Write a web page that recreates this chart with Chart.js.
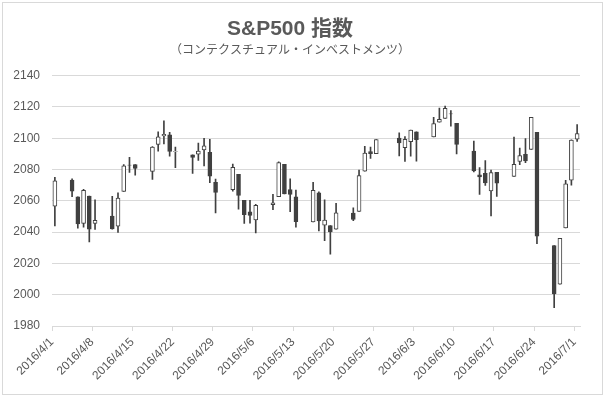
<!DOCTYPE html>
<html>
<head>
<meta charset="utf-8">
<script src="https://cdn.jsdelivr.net/npm/chart.js@4.4.0/dist/chart.umd.min.js"></script>
<style>
html, body { margin: 0; padding: 0; background: #fff; }
</style>
</head>
<body>
<canvas id="canvas" width="606" height="398"></canvas>
<script>
var dates = [
    "2016/4/1", "2016/4/4", "2016/4/5", "2016/4/6", "2016/4/7", "2016/4/8",
    "2016/4/11", "2016/4/12", "2016/4/13", "2016/4/14", "2016/4/15",
    "2016/4/18", "2016/4/19", "2016/4/20", "2016/4/21", "2016/4/22",
    "2016/4/25", "2016/4/26", "2016/4/27", "2016/4/28", "2016/4/29",
    "2016/5/2", "2016/5/3", "2016/5/4", "2016/5/5", "2016/5/6",
    "2016/5/9", "2016/5/10", "2016/5/11", "2016/5/12", "2016/5/13",
    "2016/5/16", "2016/5/17", "2016/5/18", "2016/5/19", "2016/5/20",
    "2016/5/23", "2016/5/24", "2016/5/25", "2016/5/26", "2016/5/27",
    "2016/5/31", "2016/6/1", "2016/6/2", "2016/6/3",
    "2016/6/6", "2016/6/7", "2016/6/8", "2016/6/9", "2016/6/10",
    "2016/6/13", "2016/6/14", "2016/6/15", "2016/6/16", "2016/6/17",
    "2016/6/20", "2016/6/21", "2016/6/22", "2016/6/23", "2016/6/24",
    "2016/6/27", "2016/6/28", "2016/6/29", "2016/6/30", "2016/7/1"
];
var openVals = [
    2056.62, 2073.19, 2062.50, 2045.56, 2063.01, 2045.54,
    2050.23, 2043.72, 2065.92, 2082.89, 2083.10,
    2078.83, 2096.05, 2101.52, 2102.09, 2091.49,
    2089.37, 2089.84, 2092.57, 2090.93, 2071.82,
    2067.17, 2076.97, 2060.30, 2052.95, 2047.77,
    2057.55, 2062.63, 2083.29, 2067.17, 2062.50,
    2046.53, 2065.04, 2044.38, 2044.21, 2041.88,
    2052.23, 2053.17, 2078.93, 2091.44, 2090.06,
    2100.13, 2093.94, 2097.71, 2104.07,
    2100.83, 2110.18, 2112.71, 2115.65, 2109.57,
    2091.75, 2076.65, 2077.60, 2066.36, 2078.20,
    2075.58, 2085.19, 2089.75, 2092.80, 2103.81,
    2031.45, 2006.67, 2042.69, 2073.17, 2099.34
];
var highVals = [
    2075.07, 2074.02, 2062.50, 2067.33, 2063.01, 2060.63,
    2062.93, 2065.05, 2083.18, 2087.84, 2083.22,
    2094.66, 2104.05, 2111.05, 2103.78, 2094.32,
    2089.37, 2096.87, 2099.89, 2099.30, 2073.85,
    2083.42, 2076.97, 2060.30, 2060.23, 2057.72,
    2064.15, 2084.87, 2083.29, 2073.99, 2066.79,
    2071.88, 2065.69, 2060.61, 2044.21, 2058.35,
    2055.58, 2079.67, 2094.73, 2094.30, 2099.06,
    2103.48, 2100.97, 2105.26, 2104.07,
    2113.36, 2119.22, 2120.55, 2117.64, 2109.57,
    2098.12, 2081.30, 2085.65, 2079.62, 2078.20,
    2100.66, 2093.66, 2099.71, 2113.32, 2103.81,
    2031.45, 2036.09, 2073.13, 2098.94, 2108.71
];
var lowVals = [
    2043.98, 2062.57, 2042.56, 2043.09, 2033.80, 2041.69,
    2041.88, 2039.74, 2065.92, 2078.13, 2076.31,
    2073.65, 2091.68, 2096.32, 2088.52, 2081.20,
    2077.52, 2085.80, 2082.31, 2071.62, 2052.28,
    2066.11, 2054.61, 2045.55, 2045.77, 2039.45,
    2054.31, 2062.63, 2064.46, 2053.13, 2043.13,
    2046.53, 2040.82, 2034.49, 2025.91, 2041.88,
    2047.26, 2053.17, 2078.93, 2087.08, 2090.06,
    2088.66, 2085.10, 2088.59, 2085.36,
    2100.83, 2110.18, 2112.71, 2107.73, 2089.96,
    2078.46, 2064.10, 2069.80, 2050.37, 2062.84,
    2075.58, 2083.02, 2084.36, 2092.80, 2032.57,
    1991.68, 2006.67, 2042.69, 2070.00, 2097.90
];
var closeVals = [
    2072.78, 2066.13, 2045.17, 2066.66, 2041.91, 2047.60,
    2041.99, 2061.72, 2082.42, 2082.78, 2080.73,
    2094.34, 2100.80, 2102.40, 2091.48, 2091.58,
    2087.79, 2091.70, 2095.15, 2075.81, 2065.30,
    2081.43, 2063.37, 2051.12, 2050.63, 2057.14,
    2058.69, 2084.39, 2064.46, 2064.11, 2046.61,
    2066.66, 2047.21, 2047.63, 2040.04, 2052.32,
    2048.04, 2076.06, 2090.54, 2090.10, 2099.06,
    2096.95, 2099.33, 2105.26, 2099.13,
    2109.41, 2112.13, 2119.12, 2115.48, 2096.07,
    2079.06, 2075.32, 2071.50, 2077.99, 2071.22,
    2083.25, 2088.90, 2085.45, 2113.32, 2037.41,
    2000.54, 2036.09, 2070.77, 2098.86, 2102.95
];
var tickLabels = [
    "2016/4/1", "2016/4/8", "2016/4/15", "2016/4/22", "2016/4/29",
    "2016/5/6", "2016/5/13", "2016/5/20", "2016/5/27", "2016/6/3",
    "2016/6/10", "2016/6/17", "2016/6/24", "2016/7/1"
];

var startDay = Date.UTC(2016, 3, 1);
function dayIndex(s) {
    var p = s.split("/");
    return Math.round((Date.UTC(+p[0], +p[1] - 1, +p[2]) - startDay) / 86400000);
}

var dark = "#404040";
var textColor = "#595959";
var gridColor = "#d9d9d9";
var fontFamily = "'Liberation Sans', 'Noto Sans CJK JP', sans-serif";

// candle bodies and wicks as floating bars
var bodies = dates.map(function (d, i) {
    return { x: dayIndex(d) + 0.5, y: [openVals[i], closeVals[i]] };
});
var wicks = dates.map(function (d, i) {
    return { x: dayIndex(d) + 0.5, y: [lowVals[i], highVals[i]] };
});
var bodyFill = dates.map(function (d, i) {
    return closeVals[i] >= openVals[i] ? "#ffffff" : dark;
});

var frame = {
    id: "frame",
    beforeDraw: function (chart) {
        var c = chart.ctx;
        c.save();
        c.fillStyle = "#ffffff";
        c.fillRect(0, 0, chart.width, chart.height);
        c.strokeStyle = gridColor;
        c.lineWidth = 1;
        c.strokeRect(2.5, 2.5, 600, 392);
        c.restore();
    }
};

var config = {
    type: "bar",
    data: {
        datasets: [
            {
                label: "body",
                data: bodies,
                backgroundColor: bodyFill,
                borderColor: dark,
                borderWidth: 1,
                borderSkipped: false,
                barThickness: 4,
                grouped: false,
                order: 0
            },
            {
                label: "wick",
                data: wicks,
                backgroundColor: dark,
                borderWidth: 0,
                barThickness: 1,
                grouped: false,
                order: 1
            }
        ]
    },
    options: {
        responsive: false,
        animation: false,
        layout: { padding: { left: 0, right: 26, top: 0, bottom: 0 } },
        plugins: {
            legend: { display: false },
            tooltip: { enabled: false },
            title: {
                display: true,
                text: "S&P500 指数",
                color: textColor,
                font: { family: fontFamily, size: 21, weight: "bold" },
                padding: { top: 17, bottom: 0 }
            },
            subtitle: {
                display: true,
                text: "（コンテクスチュアル・インベストメンツ）",
                color: textColor,
                font: { family: fontFamily, size: 12 },
                padding: { top: 1, bottom: 18 }
            }
        },
        scales: {
            x: {
                type: "linear",
                min: 0,
                max: 92,
                offset: false,
                afterBuildTicks: function (scale) {
                    scale.ticks = tickLabels.map(function (t) {
                        return { value: dayIndex(t) };
                    });
                },
                afterFit: function (scale) {
                    scale.height = 72;
                },
                ticks: {
                    autoSkip: false,
                    minRotation: 45,
                    maxRotation: 45,
                    padding: 4,
                    color: textColor,
                    font: { family: fontFamily, size: 12 },
                    callback: function (value, index) {
                        return tickLabels[index];
                    }
                },
                grid: {
                    offset: false,
                    drawOnChartArea: false,
                    drawTicks: true,
                    tickLength: 5,
                    color: gridColor
                },
                border: { display: true, color: gridColor }
            },
            y: {
                min: 1980,
                max: 2140,
                afterFit: function (scale) {
                    scale.width = 52;
                },
                ticks: {
                    stepSize: 20,
                    padding: 12,
                    color: textColor,
                    font: { family: fontFamily, size: 12 },
                    callback: function (value) {
                        return String(value);
                    }
                },
                grid: { color: gridColor, drawTicks: false },
                border: { display: false }
            }
        }
    },
    plugins: [frame]
};

window.onload = function () {
    var ctx = document.getElementById("canvas").getContext("2d");
    window.myChart = new Chart(ctx, config);
};
</script>
</body>
</html>
